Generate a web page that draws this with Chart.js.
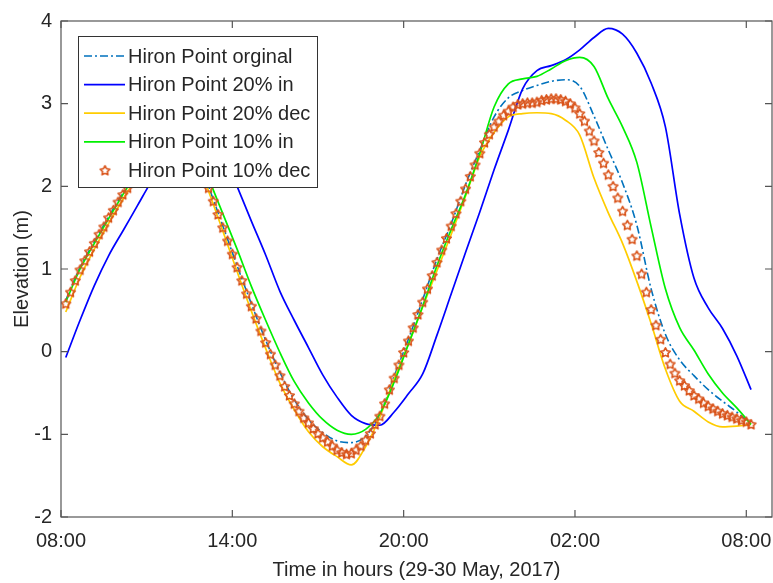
<!DOCTYPE html>
<html>
<head>
<meta charset="utf-8">
<title>Hiron Point tide</title>
<script src="https://cdn.jsdelivr.net/npm/chart.js@4.4.1/dist/chart.umd.min.js"></script>
<style>
  html, body { margin: 0; padding: 0; background: #fff; }
</style>
</head>
<body>
<canvas id="tideChart" width="773" height="583"></canvas>
<script>
// hours after 08:00 on 29 May 2017; first sample 08:10
const seriesStart = 1 / 6;
const lineStep = 0.5;      // line series every 30 min
const markerStep = 1 / 6;  // 10% dec series every 10 min

const seriesNames = ["Hiron Point orginal", "Hiron Point 20% in", "Hiron Point 20% dec", "Hiron Point 10% in", "Hiron Point 10% dec"];
const xTickHours = [0, 6, 12, 18, 24];
const xTickLabels = ["08:00", "14:00", "20:00", "02:00", "08:00"];

const original = [0.62, 1.02, 1.33, 1.63, 1.92, 2.20, 2.48, 2.68, 2.74, 2.48,
  2.00, 1.52, 1.04, 0.58, 0.14, -0.25, -0.58, -0.82, -0.98, -1.08,
  -1.10, -1.02, -0.76, -0.30, 0.15, 0.63, 1.12, 1.55, 2.02, 2.44,
  2.84, 3.07, 3.16, 3.22, 3.27, 3.29, 3.21, 2.85, 2.44, 2.04,
  1.53, 0.76, 0.21, -0.10, -0.29, -0.46, -0.60, -0.73, -0.88];

const in20 = [-0.07, 0.38, 0.80, 1.16, 1.46, 1.76, 2.06, 2.32, 2.48, 2.62,
  2.62, 2.42, 2.00, 1.58, 1.17, 0.73, 0.38, 0.05, -0.28, -0.55,
  -0.77, -0.87, -0.89, -0.73, -0.51, -0.27, 0.20, 0.70, 1.20, 1.69,
  2.20, 2.68, 3.18, 3.40, 3.46, 3.53, 3.65, 3.80, 3.91, 3.84,
  3.61, 3.25, 2.72, 1.66, 0.89, 0.53, 0.28, -0.05, -0.46];

const dec20 = [0.48, 0.90, 1.24, 1.55, 1.84, 2.12, 2.38, 2.55, 2.58, 2.38,
  1.94, 1.46, 0.97, 0.49, 0.04, -0.38, -0.70, -0.97, -1.15, -1.27,
  -1.37, -1.15, -0.79, -0.33, 0.09, 0.54, 0.98, 1.42, 1.88, 2.36,
  2.65, 2.84, 2.88, 2.89, 2.88, 2.80, 2.62, 2.10, 1.68, 1.31,
  0.85, 0.34, -0.21, -0.60, -0.72, -0.85, -0.91, -0.90, -0.88];

const in10 = [0.60, 1.00, 1.31, 1.61, 1.90, 2.18, 2.45, 2.66, 2.78, 2.55,
  2.10, 1.67, 1.24, 0.79, 0.38, -0.01, -0.36, -0.62, -0.82, -0.95,
  -1.00, -0.94, -0.75, -0.37, 0.09, 0.55, 1.04, 1.48, 1.90, 2.40,
  2.96, 3.24, 3.30, 3.33, 3.42, 3.52, 3.56, 3.45, 3.06, 2.72,
  2.29, 1.51, 0.76, 0.29, 0.02, -0.27, -0.50, -0.68, -0.88];

const dec10 = [0.58, 0.72, 0.86, 0.99, 1.10, 1.21, 1.31, 1.42, 1.51, 1.62, 1.71, 1.81, 1.90, 1.98,
  2.06, 2.14, 2.22, 2.30, 2.38, 2.45, 2.52, 2.58, 2.63, 2.66, 2.67, 2.64, 2.57, 2.45, 2.30, 2.14,
  1.98, 1.82, 1.66, 1.50, 1.34, 1.18, 1.02, 0.86, 0.70,
  0.55, 0.40, 0.25, 0.11, -0.03, -0.16, -0.29, -0.42, -0.53, -0.63, -0.72, -0.80, -0.86, -0.93, -0.99, -1.04, -1.09, -1.14, -1.19, -1.22, -1.24, -1.23,
  -1.19, -1.14, -1.07, -0.99, -0.88, -0.78, -0.63, -0.46, -0.32, -0.16, -0.01, 0.13, 0.29, 0.45, 0.60, 0.76, 0.92, 1.08, 1.23, 1.37, 1.52, 1.67, 1.82, 1.97,
  2.12, 2.26, 2.40, 2.53, 2.63, 2.72, 2.79, 2.86, 2.91, 2.96, 2.99, 3.00, 3.01, 3.01, 3.02,
  3.04, 3.05, 3.06, 3.06, 3.05, 3.03, 3.00, 2.95, 2.88, 2.79, 2.67, 2.55, 2.41, 2.28, 2.14, 2.00,
  1.86, 1.70, 1.53, 1.36, 1.16, 0.94, 0.72, 0.51, 0.32, 0.15, -0.01, -0.15, -0.26, -0.35,
  -0.41, -0.47, -0.53, -0.57, -0.62, -0.66, -0.69, -0.72, -0.75, -0.77, -0.79, -0.81, -0.83, -0.85, -0.88];

const textColor = "#262626";
const axisColor = "#555";
const fontFamily = "'Liberation Sans', Arial, Helvetica, sans-serif";

const toPoints = (values, step) => values.map((v, i) => ({ x: seriesStart + i * step, y: v }));

// hollow pentagram marker like matlab 'p'
function makeStar(color) {
  const c = document.createElement("canvas");
  c.width = 13; c.height = 13;
  const g = c.getContext("2d");
  const R = 5, r = 2.6, cx = 6.5, cy = 6.8;
  g.beginPath();
  for (let i = 0; i < 10; i++) {
    const rad = i % 2 === 0 ? R : r;
    const a = -Math.PI / 2 + i * Math.PI / 5;
    const px = cx + rad * Math.cos(a), py = cy + rad * Math.sin(a);
    if (i === 0) g.moveTo(px, py); else g.lineTo(px, py);
  }
  g.closePath();
  g.strokeStyle = color;
  g.lineWidth = 1.6;
  g.lineJoin = "round";
  g.stroke();
  return c;
}
const starImg = makeStar("#D95319");

const styles = [
  { color: "#0072BD", dash: [8, 3, 2, 3], width: 1.6 },
  { color: "#0000FF", dash: [], width: 1.7 },
  { color: "#FFCC00", dash: [], width: 1.7 },
  { color: "#00F000", dash: [], width: 1.7 },
  { color: "#D95319", marker: true }
];

const boxAndLegend = {
  id: "boxAndLegend",
  afterDatasetsDraw(chart) {
    const { ctx, chartArea: a, scales } = chart;
    const x = scales.x, y = scales.y;
    ctx.save();
    ctx.strokeStyle = axisColor;
    ctx.lineWidth = 1.2;
    ctx.setLineDash([]);
    ctx.strokeRect(a.left, a.top, a.right - a.left, a.bottom - a.top);
    ctx.beginPath();
    xTickHours.forEach(h => {
      const px = x.getPixelForValue(h);
      ctx.moveTo(px, a.bottom); ctx.lineTo(px, a.bottom - 7);
      ctx.moveTo(px, a.top); ctx.lineTo(px, a.top + 7);
    });
    y.ticks.forEach(t => {
      const py = y.getPixelForValue(t.value);
      ctx.moveTo(a.left, py); ctx.lineTo(a.left + 7, py);
      ctx.moveTo(a.right, py); ctx.lineTo(a.right - 7, py);
    });
    ctx.stroke();

    // legend box, top-left inside the axes
    const bx = a.left + 17, by = a.top + 15, bw = 239, bh = 151;
    ctx.fillStyle = "#fff";
    ctx.fillRect(bx, by, bw, bh);
    ctx.strokeStyle = "#333";
    ctx.lineWidth = 1;
    ctx.strokeRect(bx + 0.5, by + 0.5, bw, bh);
    ctx.font = "20px " + fontFamily;
    ctx.textBaseline = "middle";
    ctx.textAlign = "left";
    seriesNames.forEach((name, i) => {
      const ry = by + 20 + i * 28.6;
      const s = styles[i];
      if (s.marker) {
        ctx.drawImage(starImg, bx + 27 - 6.5, ry - 6.5);
      } else {
        ctx.beginPath();
        ctx.strokeStyle = s.color;
        ctx.lineWidth = s.width;
        ctx.setLineDash(s.dash);
        ctx.moveTo(bx + 6, ry);
        ctx.lineTo(bx + 47, ry);
        ctx.stroke();
        ctx.setLineDash([]);
      }
      ctx.fillStyle = textColor;
      ctx.fillText(name, bx + 50, ry + 1);
    });
    ctx.restore();
  }
};

const lineSeries = [original, in20, dec20, in10];
const datasets = lineSeries.map((vals, i) => ({
  label: seriesNames[i],
  data: toPoints(vals, lineStep),
  borderColor: styles[i].color,
  borderWidth: styles[i].width,
  borderDash: styles[i].dash,
  pointRadius: 0,
  cubicInterpolationMode: "monotone",
  fill: false,
  order: [4, 3, 2, 1][i]
}));
datasets.push({
  label: seriesNames[4],
  data: toPoints(dec10, markerStep),
  showLine: false,
  pointStyle: starImg,
  pointRadius: 5,
  borderColor: styles[4].color,
  order: 0
});

Chart.defaults.font.family = fontFamily;
Chart.defaults.font.size = 20;
Chart.defaults.color = textColor;

new Chart(document.getElementById("tideChart"), {
  type: "line",
  data: { datasets },
  options: {
    responsive: false,
    animation: false,
    layout: { autoPadding: false, padding: { top: 17, right: 1, left: 0, bottom: 0 } },
    plugins: { legend: { display: false }, tooltip: { enabled: false } },
    scales: {
      x: {
        type: "linear",
        min: 0,
        max: 24.9,
        afterBuildTicks: scale => { scale.ticks = xTickHours.map(v => ({ value: v })); },
        afterFit: scale => {
          scale.height = 66;
          scale.paddingLeft = 0;
          scale.paddingRight = 0;
        },
        grid: { display: false, drawTicks: false },
        border: { display: false },
        ticks: {
          autoSkip: false,
          maxRotation: 0,
          padding: 12,
          color: textColor,
          callback: v => xTickLabels[xTickHours.indexOf(v)]
        },
        title: {
          display: true,
          text: "Time in hours (29-30 May, 2017)",
          color: textColor,
          padding: { top: 0, bottom: 1 }
        }
      },
      y: {
        min: -2,
        max: 4,
        afterFit: scale => { scale.width = 61; },
        grid: { display: false, drawTicks: false },
        border: { display: false },
        ticks: { stepSize: 1, padding: 9, color: textColor },
        title: {
          display: true,
          text: "Elevation (m)",
          color: textColor,
          padding: { top: 10, bottom: 0 }
        }
      }
    }
  },
  plugins: [boxAndLegend]
});
</script>
</body>
</html>
